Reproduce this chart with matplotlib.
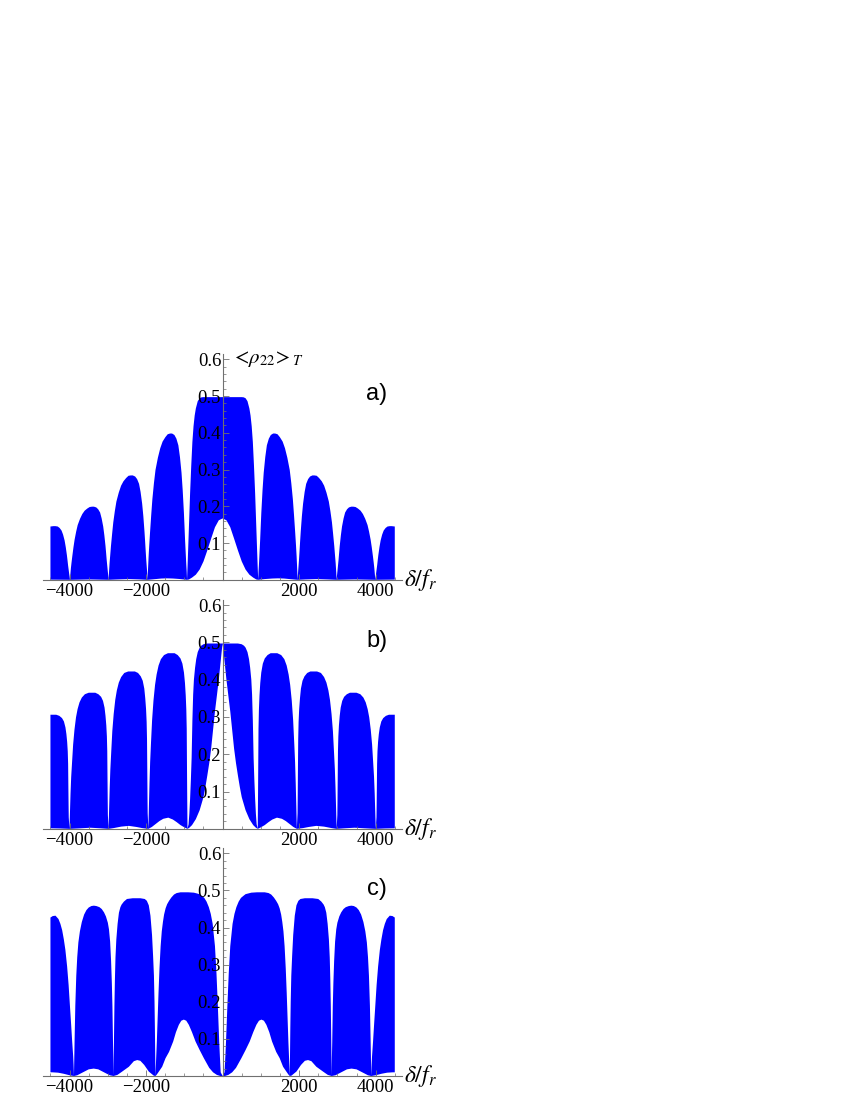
import numpy as np
import matplotlib
matplotlib.use("Agg")
import matplotlib.pyplot as plt
from matplotlib.ticker import MultipleLocator, FixedLocator, FuncFormatter

plt.rcParams['font.family'] = ['Liberation Serif', 'DejaVu Serif']
plt.rcParams['mathtext.fontset'] = 'stix'

# envelopes, right half only (curves are symmetric in delta)
# panel a
xa_up = [0, 100, 200, 300, 400, 500, 550, 600, 650, 700, 730, 760, 790, 820, 850, 875, 900, 915, 930,
         940, 951, 966, 982, 997, 1012, 1043, 1074, 1115, 1157, 1208, 1260, 1321, 1373, 1435, 1497,
         1569, 1630, 1692, 1754, 1795, 1836, 1867, 1898, 1919, 1934, 1950, 1960,
         1970, 1980, 1996, 2011, 2026, 2042, 2072, 2103, 2144, 2184, 2235, 2286, 2348, 2399, 2460, 2521,
         2592, 2654, 2715, 2776, 2817, 2858, 2888, 2919, 2939, 2955, 2970, 2980,
         2990, 3000, 3015, 3031, 3046, 3061, 3091, 3121, 3162, 3202, 3253, 3303, 3364, 3414, 3475, 3536,
         3606, 3667, 3727, 3788, 3828, 3869, 3899, 3929, 3950, 3965, 3980, 3990,
         4000, 4010, 4025, 4040, 4055, 4070, 4100, 4130, 4170, 4210, 4260, 4310, 4370, 4420, 4500]
ya_up = [0.497, 0.497, 0.497, 0.497, 0.497, 0.497, 0.4965, 0.494, 0.486, 0.466, 0.447, 0.418, 0.375, 0.31, 0.235, 0.16, 0.085, 0.04, 0,
         0.024, 0.044, 0.076, 0.110, 0.147, 0.183, 0.243, 0.291, 0.334, 0.366, 0.384, 0.394, 0.398, 0.398, 0.396, 0.388,
         0.376, 0.358, 0.332, 0.299, 0.263, 0.219, 0.175, 0.127, 0.092, 0.064, 0.028, 0,
         0.017, 0.031, 0.054, 0.079, 0.105, 0.131, 0.173, 0.207, 0.239, 0.261, 0.274, 0.281, 0.284, 0.284, 0.283, 0.277,
         0.268, 0.256, 0.237, 0.213, 0.187, 0.156, 0.125, 0.091, 0.065, 0.045, 0.020, 0,
         0.012, 0.022, 0.038, 0.055, 0.074, 0.092, 0.121, 0.145, 0.167, 0.183, 0.192, 0.197, 0.199, 0.199, 0.198, 0.194,
         0.188, 0.179, 0.166, 0.149, 0.131, 0.109, 0.088, 0.064, 0.046, 0.032, 0.014, 0,
         0.009, 0.016, 0.028, 0.040, 0.054, 0.067, 0.089, 0.107, 0.123, 0.134, 0.141, 0.145, 0.146, 0.146, 0.145]
xa_lo = [0, 100, 200, 300, 400, 500, 600, 700, 800, 880, 930, 1100, 1300, 1450, 1600, 1800, 1960,
         2150, 2450, 2750, 2980, 3450, 3990, 4500]
ya_lo = [0.167, 0.162, 0.143, 0.112, 0.08, 0.05, 0.028, 0.014, 0.006, 0.001, 0, 0.002, 0.0035, 0.004,
         0.0035, 0.0015, 0, 0.001, 0.002, 0.001, 0, 0.001, 0, 0.0005]

# panel b
xb_up = [0, 100, 200, 300, 400, 500, 560, 600, 650, 690, 720, 750, 770, 790, 810, 830, 850, 870, 890, 918,
         922, 926, 932, 938, 949, 964, 984, 1010, 1051, 1102, 1174, 1255, 1429, 1531, 1613, 1674, 1725,
         1766, 1807, 1843, 1874, 1894, 1911, 1926, 1940,
         1959, 1963, 1969, 1976, 1986, 2001, 2022, 2047, 2088, 2140, 2211, 2293, 2468, 2570, 2652, 2714, 2765,
         2806, 2847, 2883, 2913, 2934, 2951, 2966, 2980,
         2999, 3003, 3009, 3015, 3025, 3040, 3061, 3086, 3126, 3176, 3247, 3328, 3499, 3600, 3680, 3741, 3791,
         3832, 3872, 3907, 3937, 3958, 3975, 3989, 4003,
         4022, 4026, 4032, 4038, 4048, 4063, 4083, 4108, 4148, 4198, 4268, 4348, 4500]
yb_up = [0.497, 0.497, 0.497, 0.497, 0.497, 0.495, 0.491, 0.486, 0.474, 0.455, 0.432, 0.40, 0.36, 0.29, 0.19, 0.13, 0.08, 0.04, 0.012, 0,
         0.047, 0.094, 0.179, 0.268, 0.320, 0.358, 0.391, 0.419, 0.443, 0.457, 0.466, 0.471, 0.471, 0.466, 0.455, 0.438, 0.414,
         0.386, 0.344, 0.292, 0.226, 0.179, 0.122, 0.061, 0,
         0.042, 0.084, 0.160, 0.241, 0.287, 0.321, 0.350, 0.376, 0.397, 0.409, 0.418, 0.422, 0.422, 0.418, 0.407, 0.392, 0.371,
         0.346, 0.308, 0.262, 0.203, 0.160, 0.110, 0.055, 0,
         0.037, 0.073, 0.139, 0.208, 0.248, 0.277, 0.303, 0.325, 0.343, 0.354, 0.361, 0.365, 0.365, 0.361, 0.352, 0.339, 0.321,
         0.299, 0.266, 0.226, 0.175, 0.139, 0.095, 0.047, 0,
         0.031, 0.061, 0.116, 0.174, 0.208, 0.233, 0.254, 0.272, 0.288, 0.297, 0.303, 0.306, 0.306]
xb_lo = [0, 25, 50, 100, 150, 200, 250, 300, 350, 400, 450, 500, 600, 700, 800, 870, 918,
         1000, 1100, 1200, 1300, 1420, 1550, 1650, 1750, 1850, 1940,
         2100, 2250, 2450, 2650, 2850, 2980, 3200, 3450, 3700, 4003, 4250, 4500]
yb_lo = [0.497, 0.475, 0.45, 0.40, 0.357, 0.315, 0.265, 0.215, 0.176, 0.143, 0.112, 0.085, 0.05, 0.026, 0.01, 0.003, 0,
         0.004, 0.01, 0.018, 0.025, 0.03, 0.027, 0.021, 0.013, 0.005, 0,
         0.002, 0.005, 0.008, 0.006, 0.002, 0, 0.0015, 0.003, 0.0015, 0, 0.001, 0.0015]

# panel c
xc_up = [0, 50, 70, 90, 125, 160, 200, 260, 310, 360, 420, 480, 550, 600, 750, 900, 1100, 1200, 1270, 1340,
         1400, 1450, 1490, 1530, 1560, 1590, 1620, 1650, 1675, 1700, 1720, 1740, 1755,
         1762, 1770, 1780, 1795, 1817, 1845, 1886, 1930, 1980, 2035, 2150, 2350, 2500, 2580, 2640, 2672,
         2710, 2745, 2778, 2800, 2815, 2828, 2838, 2845, 2850,
         2857, 2865, 2880, 2895, 2915, 2940, 2970, 3000, 3050, 3100, 3160, 3220, 3300, 3366, 3430, 3500, 3560,
         3620, 3680, 3730, 3770, 3800, 3825, 3850, 3868, 3877, 3885,
         3895, 3905, 3932, 3960, 3990, 4025, 4064, 4110, 4150, 4194, 4240, 4290, 4368, 4440, 4500]
yc_up = [0, 0.01, 0.05, 0.095, 0.19, 0.276, 0.35, 0.41, 0.437, 0.455, 0.47, 0.48, 0.486, 0.49, 0.494, 0.495, 0.495, 0.493, 0.489, 0.481,
         0.472, 0.463, 0.452, 0.435, 0.415, 0.39, 0.35, 0.29, 0.225, 0.15, 0.09, 0.04, 0,
         0.06, 0.13, 0.20, 0.27, 0.323, 0.38, 0.432, 0.46, 0.472, 0.477, 0.479, 0.479, 0.477, 0.47, 0.462, 0.455,
         0.44, 0.41, 0.368, 0.32, 0.26, 0.188, 0.11, 0.05, 0,
         0.05, 0.09, 0.188, 0.25, 0.31, 0.362, 0.395, 0.413, 0.43, 0.441, 0.45, 0.455, 0.458, 0.459, 0.458, 0.454, 0.447,
         0.435, 0.415, 0.39, 0.36, 0.32, 0.27, 0.19, 0.10, 0.05, 0,
         0.03, 0.052, 0.093, 0.14, 0.188, 0.245, 0.295, 0.34, 0.368, 0.393, 0.41, 0.423, 0.432, 0.431, 0.427]
xc_lo = [0, 60, 150, 250, 350, 490, 600, 708, 800, 883, 950, 1014, 1080, 1144, 1220, 1292, 1400, 1492, 1580, 1666, 1720, 1755,
         1800, 1929, 2050, 2150, 2233, 2320, 2450, 2625, 2750, 2850,
         2950, 3100, 3250, 3370, 3500, 3650, 3800, 3885,
         4000, 4150, 4300, 4450, 4500]
yc_lo = [0, 0, 0.003, 0.01, 0.022, 0.048, 0.07, 0.093, 0.118, 0.138, 0.149, 0.152, 0.149, 0.138, 0.118, 0.093, 0.065, 0.048, 0.025, 0.012, 0.004, 0,
         0.001, 0.012, 0.03, 0.041, 0.043, 0.04, 0.025, 0.012, 0.003, 0,
         0.002, 0.01, 0.018, 0.02, 0.018, 0.01, 0.002, 0,
         0.002, 0.006, 0.009, 0.01, 0.01]

panels = [("a)", xa_up, ya_up, xa_lo, ya_lo),
          ("b)", xb_up, yb_up, xb_lo, yb_lo),
          ("c)", xc_up, yc_up, xc_lo, yc_lo)]

y_ticks = [0.1, 0.2, 0.3, 0.4, 0.5, 0.6]
x_ticks = [-4000, -2000, 2000, 4000]


def mirror(x, y):
    x = np.asarray(x, float)
    y = np.asarray(y, float)
    return np.concatenate([-x[::-1], x[1:]]), np.concatenate([y[::-1], y[1:]])


# axes rectangles in figure fraction (left, bottom, width, height)
rects = [[0.0508, 0.4729, 0.4222, 0.2055],
         [0.0508, 0.2465, 0.4222, 0.2085],
         [0.0508, 0.0218, 0.4222, 0.2075]]

fig = plt.figure(figsize=(8.5, 11), dpi=100)
axis_col = '#707070'

for i, (name, xu, yu, xl, yl) in enumerate(panels):
    ax = fig.add_axes(rects[i])
    ax.patch.set_alpha(0)

    xu, yu = mirror(xu, yu)
    xl, yl = mirror(xl, yl)
    # band between upper and lower envelope
    ax.fill(np.concatenate([xu, xl[::-1]]), np.concatenate([yu, yl[::-1]]),
            color='#0000ff', lw=0, zorder=1)

    ax.set_xlim(-4690, 4690)
    ax.set_ylim(0, 0.615)

    for s in ['top', 'right']:
        ax.spines[s].set_visible(False)
    ax.spines['left'].set_position(('data', 0))
    ax.spines['bottom'].set_position(('data', 0))
    for s in ['left', 'bottom']:
        ax.spines[s].set_color(axis_col)
        ax.spines[s].set_linewidth(0.8)

    ax.xaxis.set_major_locator(FixedLocator(x_ticks))
    ax.xaxis.set_minor_locator(MultipleLocator(500))
    ax.yaxis.set_major_locator(FixedLocator(y_ticks))
    ax.yaxis.set_minor_locator(MultipleLocator(0.02))
    ax.yaxis.set_major_formatter(FuncFormatter(lambda v, p: f"{v:.1f}"))
    ax.xaxis.set_major_formatter(FuncFormatter(lambda v, p: f"{int(v)}".replace('-', '\u2212')))

    ax.tick_params(which='major', direction='in', length=4, width=0.6, color=axis_col,
                   labelsize=13.5, pad=2)
    ax.tick_params(which='minor', direction='in', length=2.2, width=0.5, color=axis_col)
    ax.tick_params(axis='y', pad=1)

    ax.text(1.006, 0, r'$\delta/f_r$', transform=ax.get_yaxis_transform(),
            fontsize=17, ha='left', va='center')
    ax.text(4030, 0.505, name, family=['Liberation Sans', 'DejaVu Sans'], fontsize=17,
            ha='center', va='center')

    if i == 0:
        ax.text(230, 0.6, r'$<\!\rho_{22}\!>_T$', fontsize=15, ha='left', va='center')

fig.savefig('out.png', dpi=100)
